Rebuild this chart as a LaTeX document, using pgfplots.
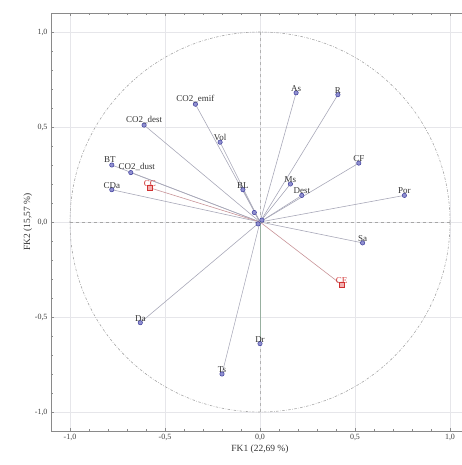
\documentclass[border=0pt]{standalone}
\usepackage{fontspec}
\setmainfont{Liberation Serif}
\usepackage{pgfplots}
\usepackage{pgfplotstable}
\pgfplotsset{compat=1.18}
\definecolor{vecgray}{HTML}{A8A8B8}
\definecolor{vecred}{HTML}{C89498}
\definecolor{vecgreen}{HTML}{98B0A0}
\definecolor{mblue}{HTML}{3C3C9C}
\definecolor{mbluefill}{HTML}{9090D0}
\definecolor{mred}{HTML}{D03030}
\definecolor{mredfill}{HTML}{F4B0B0}
\definecolor{framegray}{HTML}{8A8A8A}
\definecolor{gridgray}{HTML}{E6E6EA}

\pgfplotstableread{
x y label
0.19 0.68 As
0.41 0.67 R
0.52 0.31 CF
0.76 0.14 Por
0.16 0.20 Ms
0.22 0.14 Dest
0.54 -0.11 Sa
-0.20 -0.80 Ts
-0.63 -0.53 Da
-0.78 0.17 CDa
-0.61 0.51 CO2\_dest
-0.34 0.62 CO2\_emif
-0.21 0.42 Vol
-0.09 0.17 BL
0.00 -0.64 Dr
}\bluetab

\pgfplotstableread{
x y label
-0.68 0.26 CO2\_dust
}\dusttab

\pgfplotstableread{
x y label
-0.78 0.30 BT
}\bttab

\pgfplotstableread{
x y label
-0.58 0.18 CC
0.43 -0.33 CE
}\redtab

\pgfplotstableread{
x y
-0.03 0.05
0.01 0.01
-0.01 -0.01
}\origtab

\begin{document}
\begin{tikzpicture}
\begin{axis}[
  name=main,
  scale only axis,
  width=418bp, height=418bp,
  xmin=-1.1, xmax=1.1, ymin=-1.1, ymax=1.1,
  xtick={-1,-0.5,0,0.5,1},
  ytick={-1,-0.5,0,0.5,1},
  minor tick num=4,
  tick align=inside,
  major tick length=3bp, minor tick length=2bp,
  every tick/.style={framegray, line width=0.5pt},
  axis line style={framegray, line width=0.9pt},
  grid=major,
  major grid style={gridgray, line width=0.6pt},
  /pgf/number format/assume math mode=true,
  /pgf/number format/use comma,
  /pgf/number format/fixed,
  /pgf/number format/fixed zerofill,
  /pgf/number format/precision=1,
  ticklabel style={font=\fontsize{8}{9}\selectfont, text=black!75},
  xlabel={FK1 (22,69 \%)},
  ylabel={FK2 (15,57 \%)},
  label style={font=\fontsize{9.5}{11}\selectfont, text=black!80},
  xlabel style={yshift=3bp},
  ylabel style={yshift=-4bp},
  clip=false,
  lbl/.style={point meta=explicit symbolic, nodes near coords,
    nodes near coords style={anchor=south, font=\fontsize{9}{10}\selectfont, text=black!80, inner sep=1.2pt}},
  bmark/.style={only marks, mark=*, mark size=2.2pt, mark options={draw=mblue, fill=mbluefill, line width=0.5pt}},
]
% reference lines
\draw[gray!70, dash pattern=on 2.5pt off 1.5pt on 0.6pt off 1.5pt, line width=0.6pt] (axis cs:0,0) circle[radius=1];
\draw[gray!70, dashed, line width=0.5pt] (axis cs:-1,0) -- (axis cs:1,0);
\draw[gray!60, dashed, line width=0.5pt] (axis cs:0,-1) -- (axis cs:0,1);
% vectors
\addplot[vecgray, line width=0.6pt, quiver={u=\thisrow{x}, v=\thisrow{y}}] table[x expr=0, y expr=0] {\bluetab};
\addplot[vecgray, line width=0.6pt, quiver={u=\thisrow{x}, v=\thisrow{y}}] table[x expr=0, y expr=0] {\dusttab};
\addplot[vecgray, line width=0.6pt, quiver={u=\thisrow{x}, v=\thisrow{y}}] table[x expr=0, y expr=0] {\bttab};
\addplot[vecgray, line width=0.6pt, quiver={u=\thisrow{x}, v=\thisrow{y}}] table[x expr=0, y expr=0] {\origtab};
\addplot[vecred, line width=0.6pt, quiver={u=\thisrow{x}, v=\thisrow{y}}] table[x expr=0, y expr=0] {\redtab};
\draw[vecgreen, line width=0.7pt] (axis cs:0,0) -- (axis cs:0,-0.64);
% markers
\addplot[bmark] table[x=x, y=y] {\origtab};
\addplot[bmark, lbl] table[x=x, y=y, meta=label] {\bluetab};
\addplot[bmark, lbl, nodes near coords style={xshift=6bp}] table[x=x, y=y, meta=label] {\dusttab};
\addplot[bmark, lbl, nodes near coords style={xshift=-2bp, yshift=1bp}] table[x=x, y=y, meta=label] {\bttab};
\addplot[only marks, mark=square*, mark size=2.2pt, mark options={draw=mred, fill=mredfill, line width=0.5pt},
  lbl, nodes near coords style={text=mred}]
  table[x=x, y=y, meta=label] {\redtab};
\end{axis}
\pgfresetboundingbox
\path ([shift={(-51bp,-34bp)}]main.south west) rectangle ([shift={(411bp,431bp)}]main.south west);
\end{tikzpicture}
\end{document}
